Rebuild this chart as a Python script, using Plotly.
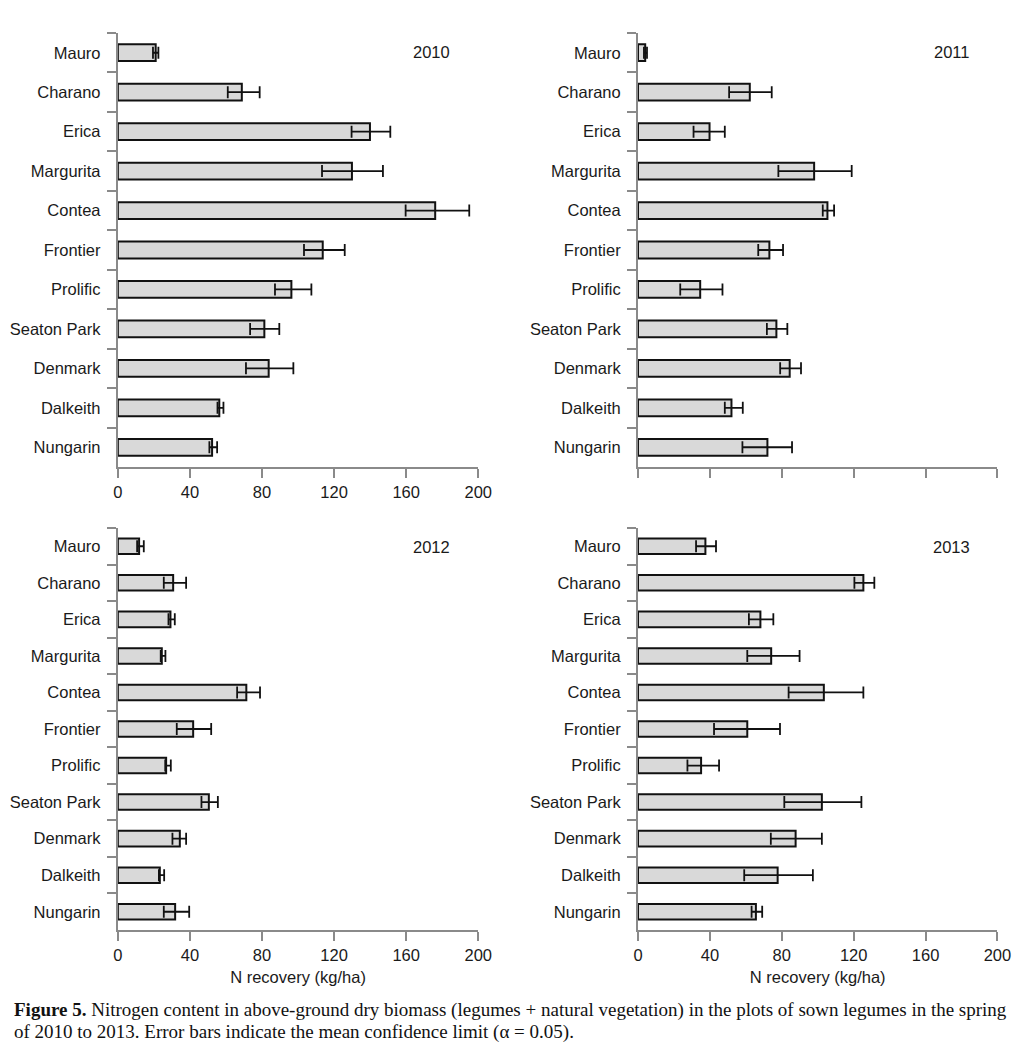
import plotly.graph_objects as go

cultivars = ["Mauro", "Charano", "Erica", "Margurita", "Contea", "Frontier",
             "Prolific", "Seaton Park", "Denmark", "Dalkeith", "Nungarin"]
years = ["2010", "2011", "2012", "2013"]

n_2010 = [21.0, 68.8, 139.9, 129.9, 176.1, 113.7, 96.3, 81.3, 83.7, 56.3, 52.3]
lo_2010 = [1.5, 7.8, 10.2, 16.6, 16.4, 10.4, 9.1, 7.9, 12.6, 1.0, 1.5]
hi_2010 = [1.5, 9.9, 11.3, 17.2, 18.9, 12.2, 11.1, 8.3, 13.7, 2.3, 2.8]

n_2011 = [4.0, 62.2, 39.8, 98.0, 105.4, 73.1, 34.6, 77.0, 84.4, 52.0, 72.0]
lo_2011 = [0.7, 11.5, 8.9, 19.9, 2.6, 6.2, 11.1, 5.3, 5.3, 3.7, 13.9]
hi_2011 = [1.0, 12.2, 8.5, 20.9, 3.7, 7.6, 12.4, 6.1, 6.3, 6.3, 13.7]

n_2012 = [11.8, 30.7, 29.2, 24.4, 71.3, 41.8, 26.8, 50.5, 34.4, 23.3, 31.8]
lo_2012 = [1.1, 5.2, 1.1, 0.6, 5.1, 9.1, 0.5, 4.1, 4.1, 0.5, 6.3]
hi_2012 = [2.6, 7.2, 2.4, 2.0, 7.6, 10.0, 2.6, 5.0, 3.5, 2.4, 7.8]

n_2013 = [37.5, 125.4, 68.1, 74.1, 103.4, 60.8, 35.1, 102.3, 87.7, 77.7, 65.6]
lo_2013 = [5.2, 5.0, 6.4, 13.3, 19.6, 18.5, 7.6, 20.9, 13.8, 18.6, 2.4]
hi_2013 = [5.9, 6.1, 7.2, 15.8, 22.0, 18.2, 10.0, 22.0, 14.6, 19.6, 3.5]

x_ticks = [0, 40, 80, 120, 160, 200]
x_title = "N recovery (kg/ha)"

# empirical mapping from figure pixels to photographed pixels
SX, OX = 0.983, 12.0
OY = 8.0
W, H = 1024, 1034
series = [(n_2010, lo_2010, hi_2010), (n_2011, lo_2011, hi_2011),
          (n_2012, lo_2012, hi_2012), (n_2013, lo_2013, hi_2013)]

# panel pixel boxes in window coordinates (left, right, top, bottom)
boxes = [(117, 478, 33, 467), (638, 998, 33, 467),
         (117, 478, 528, 930), (638, 998, 528, 930)]

FONT = "Liberation Sans, Arial, Helvetica, sans-serif"
AXC = "#8a8a8a"
TXT = "#1a1a1a"

fig = go.Figure()
layout = dict(width=W, height=H, margin=dict(l=0, r=0, t=0, b=0),
              paper_bgcolor="white", plot_bgcolor="white", showlegend=False,
              font=dict(family=FONT, size=16.5, color=TXT), bargap=0.575)
annotations = []

def px(x):
    return max((x - OX) / SX, 0) / W

def py(y):
    return 1 - (y - OY) / H

for i, ((vals, lo, hi), box) in enumerate(zip(series, boxes)):
    sfx = "" if i == 0 else str(i + 1)
    fig.add_trace(go.Bar(
        y=cultivars, x=vals, orientation="h",
        xaxis="x" + sfx, yaxis="y" + sfx,
        marker=dict(color="#d9d9d9", line=dict(color="#111111", width=2)),
        error_x=dict(type="data", symmetric=False, array=hi, arrayminus=lo,
                     color="#111111", thickness=1.8, width=6),
    ))
    l, r, t, b = box
    bottom = i >= 2
    layout["xaxis" + sfx] = dict(
        domain=[px(l), px(r)], anchor="y" + sfx, range=[0, 200], tickvals=x_ticks,
        showticklabels=(i != 1), ticks="outside", ticklen=9, tickwidth=2,
        tickcolor=AXC, showline=True, linecolor=AXC, linewidth=2,
        showgrid=False, zeroline=False, fixedrange=True,
        tickfont=dict(size=16.5, color=TXT),
        title=dict(text=x_title if bottom else "", font=dict(size=16.5), standoff=9),
    )
    layout["yaxis" + sfx] = dict(
        domain=[py(b), py(t)], anchor="x" + sfx, type="category",
        categoryorder="array", categoryarray=cultivars, autorange="reversed",
        ticks="outside", tickson="boundaries", ticklen=9, tickwidth=2,
        tickcolor=AXC, showline=True, linecolor=AXC, linewidth=2,
        showgrid=False, zeroline=False, fixedrange=True,
        ticklabelstandoff=12,
        tickfont=dict(size=16.5, color=TXT),
    )
    annotations.append(dict(
        text=years[i], xref="paper", yref="paper",
        x=px(l + 314), y=py(t + 19), showarrow=False,
        xanchor="center", yanchor="middle", font=dict(size=16.5, color=TXT)))

SERIF = "Liberation Serif, Times New Roman, serif"
annotations.append(dict(
    text="<b>Figure 5.</b> Nitrogen content in above-ground dry biomass (legumes + natural vegetation) in the plots of sown legumes in the spring",
    xref="paper", yref="paper", x=px(9), y=py(1010), showarrow=False, borderpad=0,
    xanchor="left", yanchor="middle", font=dict(family=SERIF, size=19.0, color="#111111")))
annotations.append(dict(
    text="of 2010 to 2013. Error bars indicate the mean confidence limit (α = 0.05).",
    xref="paper", yref="paper", x=px(9), y=py(1032), showarrow=False, borderpad=0,
    xanchor="left", yanchor="middle", font=dict(family=SERIF, size=19.0, color="#111111")))

layout["annotations"] = annotations
fig.update_layout(**layout)
fig.write_html("out.html")
